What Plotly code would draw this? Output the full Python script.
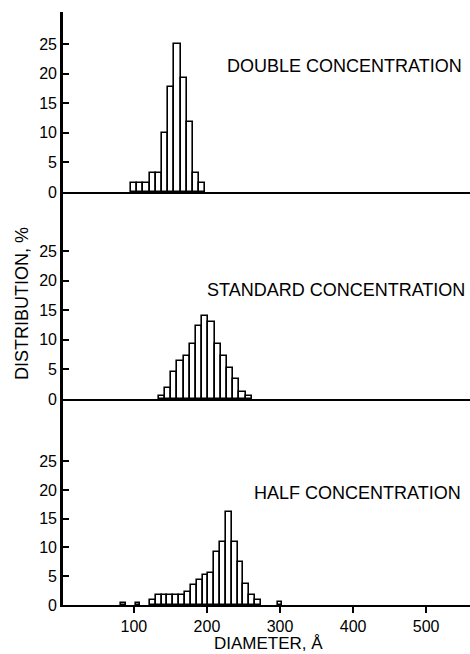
import plotly.graph_objects as go

# ---------------- data ----------------
DOUBLE_BIN_START = 96.0
DOUBLE_BIN_WIDTH = 8.5
DOUBLE_PCT = [1.5, 1.5, 1.5, 3.2, 3.2, 10.0, 17.8, 25.0, 19.3, 11.8, 3.2, 1.5]

STANDARD_BIN_START = 134.0
STANDARD_BIN_WIDTH = 8.5
STANDARD_PCT = [0.5, 1.8, 4.6, 6.5, 7.3, 9.3, 12.3, 14.1, 13.1, 9.3, 7.2, 5.3, 3.4, 1.1, 0.5]

HALF_BIN_START = 122.0
HALF_BIN_WIDTH = 8.0
HALF_PCT = [0.9, 1.7, 1.7, 1.7, 1.7, 1.7, 2.3, 3.5, 4.3, 5.2, 5.6, 9.2, 11.0, 16.2,
            11.0, 7.5, 3.6, 1.8, 0.9]
HALF_STRAY_X = [86, 106, 300]
HALF_STRAY_PCT = [0.4, 0.4, 0.5]

Y_TICKS = [0, 5, 10, 15, 20, 25]
X_TICKS = [100, 200, 300, 400, 500]

LABELS = ["DOUBLE CONCENTRATION", "STANDARD CONCENTRATION", "HALF CONCENTRATION"]
LABEL_X = [225, 197, 262]
LABEL_Y = [21.3, 18.5, 19.5]

# ---------------- figure ----------------
FONT = "Liberation Sans, Arial, sans-serif"


def centers(start, width, n):
    return [start + width * (i + 0.5) for i in range(n)]


fig = go.Figure()
bar_style = dict(marker=dict(color="white", line=dict(color="black", width=1.6)),
                 showlegend=False, hoverinfo="skip")

panels = [
    (DOUBLE_BIN_START, DOUBLE_BIN_WIDTH, DOUBLE_PCT, "x", "y"),
    (STANDARD_BIN_START, STANDARD_BIN_WIDTH, STANDARD_PCT, "x2", "y2"),
    (HALF_BIN_START, HALF_BIN_WIDTH, HALF_PCT, "x3", "y3"),
]
for start, w, vals, xa, ya in panels:
    fig.add_trace(go.Bar(x=centers(start, w, len(vals)), y=vals, width=w,
                         xaxis=xa, yaxis=ya, **bar_style))

fig.add_trace(go.Bar(x=HALF_STRAY_X, y=HALF_STRAY_PCT, width=6,
                     xaxis="x3", yaxis="y3", **bar_style))

xr = [3, 560]
d3 = 206 / 593
d2 = 413 / 593
common_x = dict(range=xr, showgrid=False, zeroline=False, showline=True,
                linecolor="black", linewidth=2.2, fixedrange=True)
common_y = dict(showgrid=False, zeroline=False, showline=True, linecolor="black",
                linewidth=2.6, ticks="inside", ticklen=6, tickwidth=1.5,
                tickcolor="black", tickvals=Y_TICKS,
                tickfont=dict(family=FONT, size=16, color="black"))

fig.update_layout(
    width=470, height=654,
    margin=dict(l=63, r=0, t=12, b=49),
    paper_bgcolor="white", plot_bgcolor="white",
    barmode="overlay", bargap=0,
    font=dict(family=FONT, color="black"),
    xaxis=dict(domain=[0, 1], anchor="y", showticklabels=False, ticks="", **common_x),
    xaxis2=dict(domain=[0, 1], anchor="y2", showticklabels=False, ticks="", **common_x),
    xaxis3=dict(domain=[0, 1], anchor="y3", ticks="outside", ticklen=6, tickwidth=1.5,
                tickcolor="black", tickvals=X_TICKS,
                tickfont=dict(family=FONT, size=16, color="black"), **common_x),
    yaxis=dict(domain=[d2, 1], range=[0, 30.4], anchor="x", **common_y),
    yaxis2=dict(domain=[d3, d2], range=[0, 35.0], anchor="x2", **common_y),
    yaxis3=dict(domain=[0, d3], range=[0, 35.8], anchor="x3", **common_y),
)

refs = [("x", "y"), ("x2", "y2"), ("x3", "y3")]
for (xa, ya), txt, lx, ly in zip(refs, LABELS, LABEL_X, LABEL_Y):
    fig.add_annotation(x=lx, y=ly, xref=xa, yref=ya, text=txt, showarrow=False,
                       xanchor="left", yanchor="middle",
                       font=dict(family=FONT, size=18, color="black"))

fig.add_annotation(x=(22 - 63) / 407, y=(605 - 304) / 593, xref="paper", yref="paper",
                   text="DISTRIBUTION, %", textangle=-90, showarrow=False,
                   xanchor="center", yanchor="middle",
                   font=dict(family=FONT, size=18, color="black"))
fig.add_annotation(x=(268 - 63) / 407, y=(605 - 643) / 593, xref="paper", yref="paper",
                   text="DIAMETER, Å", showarrow=False,
                   xanchor="center", yanchor="middle",
                   font=dict(family=FONT, size=17, color="black"))

fig.write_html("out.html")
